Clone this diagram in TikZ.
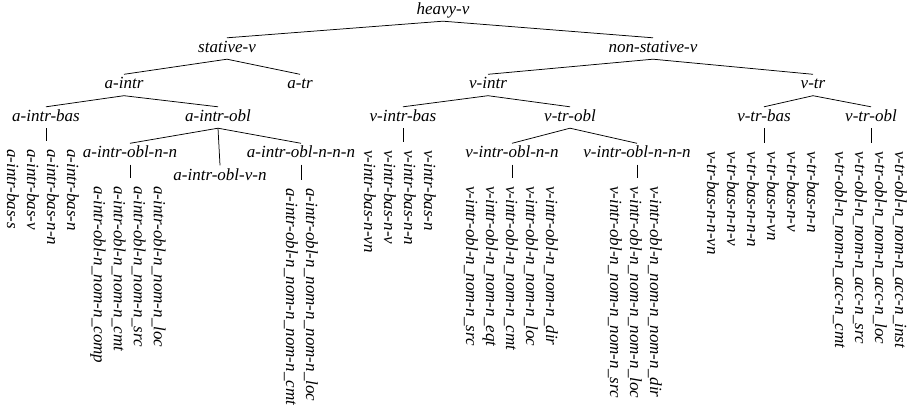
\documentclass[tikz,border=0pt]{standalone}
\usepackage{fontspec}
\setmainfont{Liberation Serif}
\begin{document}
\begin{tikzpicture}[x=1pt,y=-1pt,
  inode/.style={anchor=base,font=\fontsize{17}{20}\selectfont\itshape,
    text height=12pt,text depth=4pt,inner xsep=2pt,inner ysep=2.5pt},
  leaf/.style={rotate=-90,anchor=west,align=left,inner sep=0pt,
    font=\fontsize{17}{20}\selectfont\itshape},
  edge/.style={line width=0.75pt},
  leafedge/.style={line width=0.75pt,shorten >=8pt}]
\useasboundingbox (0,0) rectangle (908,409);
% internal nodes
\node[inode] (heavy) at (443,14.5) {heavy-v};
\node[inode] (stat) at (227,52.5) {stative-v};
\node[inode] (nstat) at (653,52.5) {non-stative-v};
\node[inode] (aintr) at (124,89) {a-intr};
\node[inode] (atr) at (300,89) {a-tr};
\node[inode] (vintr) at (488,89) {v-intr};
\node[inode] (vtr) at (813,89) {v-tr};
\node[inode] (aibas) at (46,121.5) {a-intr-bas};
\node[inode] (aiobl) at (218,121.5) {a-intr-obl};
\node[inode] (vibas) at (403,121.5) {v-intr-bas};
\node[inode] (vtroblA) at (570,121.5) {v-tr-obl};
\node[inode] (vtbas) at (764,121.5) {v-tr-bas};
\node[inode] (vtroblB) at (871,121.5) {v-tr-obl};
\node[inode] (aonn) at (130,158) {a-intr-obl-n-n};
\node[inode] (aovn) at (220,180) {a-intr-obl-v-n};
\node[inode] (aonnn) at (301,158) {a-intr-obl-n-n-n};
\node[inode] (vonn) at (512,158) {v-intr-obl-n-n};
\node[inode] (vonnn) at (637,158) {v-intr-obl-n-n-n};
% leaves
\node[leaf] (lA) at (43,149) {a-intr-bas-n\\a-intr-bas-n-n\\a-intr-bas-v\\a-intr-bas-s};
\node[leaf] (lB) at (128,186) {a-intr-obl-n\_nom-n\_loc\\a-intr-obl-n\_nom-n\_src\\a-intr-obl-n\_nom-n\_cmt\\a-intr-obl-n\_nom-n\_comp};
\node[leaf] (lC) at (301,188) {a-intr-obl-n\_nom-n\_nom-n\_loc\\a-intr-obl-n\_nom-n\_nom-n\_cmt};
\node[leaf] (lD) at (400,150) {v-intr-bas-n\\v-intr-bas-n-n\\v-intr-bas-n-v\\v-intr-bas-n-vn};
\node[leaf] (lE) at (511,186) {v-intr-obl-n\_nom-n\_dir\\v-intr-obl-n\_nom-n\_loc\\v-intr-obl-n\_nom-n\_cmt\\v-intr-obl-n\_nom-n\_eqt\\v-intr-obl-n\_nom-n\_src};
\node[leaf] (lF) at (635,186) {v-intr-obl-n\_nom-n\_nom-n\_dir\\v-intr-obl-n\_nom-n\_nom-n\_loc\\v-intr-obl-n\_nom-n\_nom-n\_src};
\node[leaf] (lG) at (763,151) {v-tr-bas-n-n\\v-tr-bas-n-v\\v-tr-bas-n-vn\\v-tr-bas-n-n-n\\v-tr-bas-n-n-v\\v-tr-bas-n-n-vn};
\node[leaf] (lH) at (870,151) {v-tr-obl-n\_nom-n\_acc-n\_inst\\v-tr-obl-n\_nom-n\_acc-n\_loc\\v-tr-obl-n\_nom-n\_acc-n\_src\\v-tr-obl-n\_nom-n\_acc-n\_cmt};
% edges
\draw[edge] (heavy.south) -- (stat.north);
\draw[edge] (heavy.south) -- (nstat.north);
\draw[edge] (stat.south) -- (aintr.north);
\draw[edge] (stat.south) -- (atr.north);
\draw[edge] (nstat.south) -- (vintr.north);
\draw[edge] (nstat.south) -- (vtr.north);
\draw[edge] (aintr.south) -- (aibas.north);
\draw[edge] (aintr.south) -- (aiobl.north);
\draw[edge] (vintr.south) -- (vibas.north);
\draw[edge] (vintr.south) -- (vtroblA.north);
\draw[edge] (vtr.south) -- (vtbas.north);
\draw[edge] (vtr.south) -- (vtroblB.north);
\draw[edge] (aiobl.south) -- (aonn.north);
\draw[edge] (aiobl.south) -- (aovn.north);
\draw[edge] (aiobl.south) -- (aonnn.north);
\draw[edge] (vtroblA.south) -- (vonn.north);
\draw[edge] (vtroblA.south) -- (vonnn.north);
% leaf edges
\draw[leafedge] (aibas.south) -- (aibas.south |- lA.west);
\draw[leafedge] (aonn.south) -- (aonn.south |- lB.west);
\draw[leafedge] (aonnn.south) -- (aonnn.south |- lC.west);
\draw[leafedge] (vibas.south) -- (vibas.south |- lD.west);
\draw[leafedge] (vonn.south) -- (vonn.south |- lE.west);
\draw[leafedge] (vonnn.south) -- (vonnn.south |- lF.west);
\draw[leafedge] (vtbas.south) -- (vtbas.south |- lG.west);
\draw[leafedge] (vtroblB.south) -- (vtroblB.south |- lH.west);
\end{tikzpicture}
\end{document}
